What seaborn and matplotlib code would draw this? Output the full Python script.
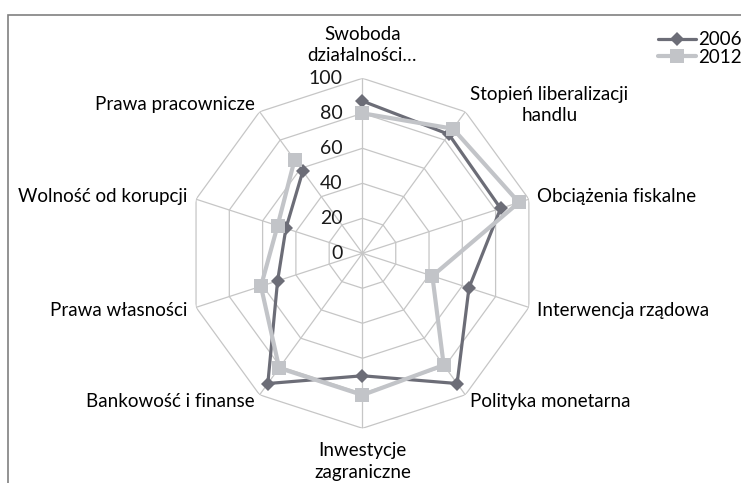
import numpy as np
import pandas as pd
import seaborn as sns
import matplotlib.pyplot as plt
from matplotlib.patches import Rectangle
from matplotlib.transforms import offset_copy

# === Data ===
categories = ['Swoboda\ndziałalności…', 'Stopień liberalizacji\nhandlu', 'Obciążenia fiskalne',
              'Interwencja rządowa', 'Polityka monetarna', 'Inwestycje\nzagraniczne',
              'Bankowość i finanse', 'Prawa własności', 'Wolność od korupcji', 'Prawa pracownicze']
values_2006 = [87, 84, 83, 64, 92, 70, 92, 51, 46, 58]
values_2012 = [80, 88, 94, 42, 79, 81, 81, 61, 51, 66]
ring_ticks = [0, 20, 40, 60, 80, 100]
series_names = ['2006', '2012']

sns.set_theme(style='white')
plt.rcParams['font.family'] = ['Lato', 'DejaVu Sans']

n = len(categories)
theta = np.linspace(0, 2 * np.pi, n, endpoint=False)
theta_closed = np.append(theta, theta[0])

fig = plt.figure(figsize=(7.41, 4.83), dpi=100)
ax = fig.add_axes([0.253, 0.1133, 0.4723, 0.7246], projection='polar')
ax.set_theta_zero_location('N')
ax.set_theta_direction(-1)
ax.set_ylim(0, 100)
ax.grid(False)
ax.spines['polar'].set_visible(False)
ax.set_xticks([])
ax.set_yticks([])
ax.patch.set_alpha(0)

grid_color = '#c6c6c6'
# === polygon rings + spokes (Excel style) ===
for r in ring_ticks[1:]:
    ax.plot(theta_closed, [r] * (n + 1), color=grid_color, lw=0.9, zorder=1)
for t in theta:
    ax.plot([t, t], [0, 100], color=grid_color, lw=0.9, zorder=1)

# === series ===
df = pd.DataFrame({
    'theta': np.concatenate([theta_closed, theta_closed]),
    'value': values_2006 + values_2006[:1] + values_2012 + values_2012[:1],
    'year': [series_names[0]] * (n + 1) + [series_names[1]] * (n + 1),
})
styles = {'2006': dict(color='#6c6d77', lw=2.3, marker='D', ms=7),
          '2012': dict(color='#c2c4c8', lw=3.0, marker='s', ms=9.5)}
for i, year in enumerate(series_names):
    sub = df[df['year'] == year]
    st = styles[year]
    sns.lineplot(x=sub['theta'].values, y=sub['value'].values, ax=ax, sort=False,
                 color=st['color'], linewidth=st['lw'], marker=st['marker'],
                 markersize=st['ms'], markeredgewidth=0, label=year, zorder=3 + i,
                 legend=False)
ax.set_xlabel('')
ax.set_ylabel('')

text_color = '#000000'
# === radial tick labels ===
tick_tr = offset_copy(ax.transData, fig=fig, x=-20, y=0, units='dots')
for r in ring_ticks:
    ax.text(0, r, str(r), transform=tick_tr, ha='right', va='center',
            fontsize=14, color='#1a1a1a')

# === category labels ===
label_font = 13.5
for i, (t, lab) in enumerate(zip(theta, categories)):
    if i == 0 or i == 5:
        ax.text(t, 119, lab, ha='center', va='center', fontsize=label_font,
                color=text_color, linespacing=1.3)
    elif i < 5:
        ax.text(t, 105, lab, ha='left', va='center', fontsize=label_font,
                color=text_color, multialignment='center', linespacing=1.3)
    else:
        ax.text(t, 105, lab, ha='right', va='center', fontsize=label_font,
                color=text_color)

# === legend ===
handles = [plt.Line2D([], [], color=styles[y]['color'], lw=styles[y]['lw'],
                      marker=styles[y]['marker'], ms=styles[y]['ms'], markeredgewidth=0)
           for y in series_names]
fig.legend(handles, series_names, loc='upper left', bbox_to_anchor=(0.876, 0.955),
           frameon=False, fontsize=13.5, handlelength=2.0, handletextpad=0.1,
           labelspacing=0.05, borderpad=0, labelcolor=text_color)

# === chart area border ===
fig.patches.append(Rectangle((0.011, -0.1), 1.2, 0.969 + 0.1, transform=fig.transFigure,
                             fill=False, edgecolor='#808080', lw=1.2))

fig.savefig('out.png', dpi=100)
